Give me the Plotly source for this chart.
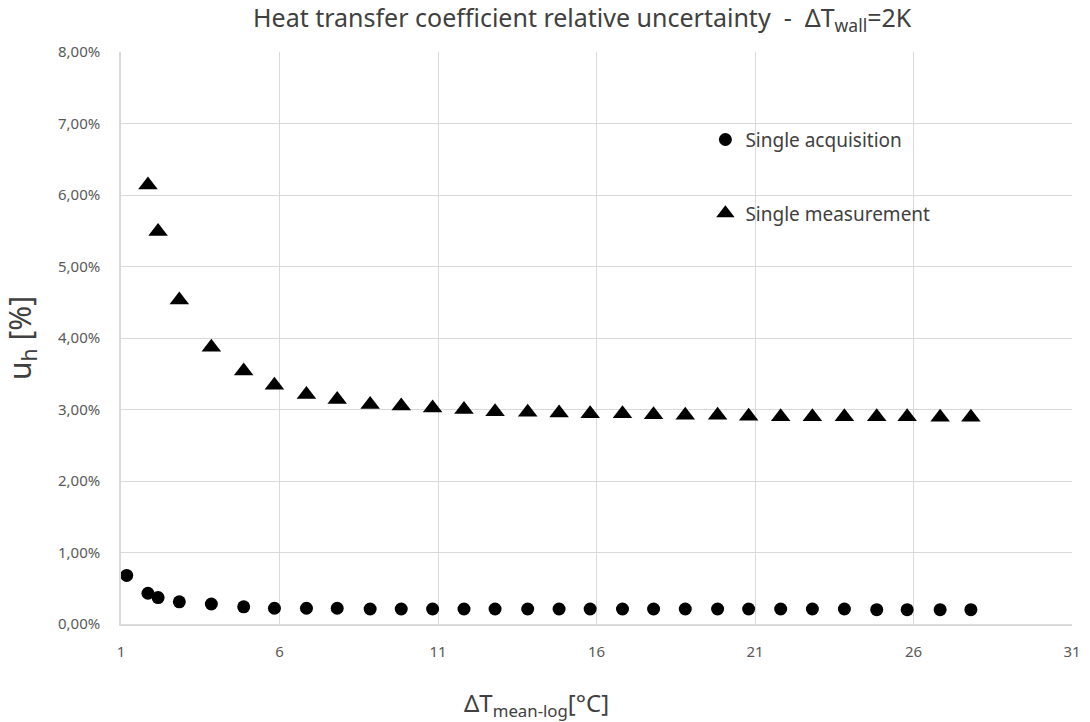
import plotly.graph_objects as go

# Data (x = ΔT mean-log [°C], y = relative uncertainty in %)
acq_x = [1.18, 1.85, 2.17, 2.84, 3.85, 4.87, 5.84, 6.85, 7.82, 8.86, 9.84, 10.83, 11.82, 12.8,
         13.83, 14.82, 15.8, 16.82, 17.8, 18.8, 19.82, 20.8, 21.81, 22.81, 23.82, 24.84, 25.8,
         26.84, 27.81]
acq_y = [0.68, 0.43, 0.37, 0.31, 0.28, 0.24, 0.22, 0.22, 0.22, 0.21, 0.21, 0.21, 0.21, 0.21,
         0.21, 0.21, 0.21, 0.21, 0.21, 0.21, 0.21, 0.21, 0.21, 0.21, 0.21, 0.20, 0.20, 0.20, 0.20]

meas_x = [1.85, 2.17, 2.84, 3.85, 4.87, 5.84, 6.85, 7.82, 8.86, 9.84, 10.83, 11.82, 12.8,
          13.83, 14.82, 15.8, 16.82, 17.8, 18.8, 19.82, 20.8, 21.81, 22.81, 23.82, 24.84, 25.8,
          26.84, 27.81]
meas_y = [6.14, 5.49, 4.53, 3.87, 3.54, 3.34, 3.21, 3.14, 3.07, 3.05, 3.02, 3.00, 2.97, 2.96,
          2.95, 2.94, 2.94, 2.925, 2.92, 2.92, 2.905, 2.90, 2.90, 2.90, 2.90, 2.90, 2.89, 2.89]

series_names = ["Single acquisition", "Single measurement"]
title_text = "Heat transfer coefficient relative uncertainty \u00a0-\u00a0 ΔT<sub>wall</sub>=2K"
x_title = "ΔT<sub>mean-log</sub>[°C]"
y_title = "u<sub>h</sub> [%]"

FONT = "Noto Sans"
TICK = "#595959"
TXT = "#404040"
GRID = "#d9d9d9"

fig = go.Figure()
fig.add_trace(go.Scatter(
    x=acq_x, y=[v / 100 for v in acq_y], mode="markers", name=series_names[0],
    legendgroup="a",
    marker=dict(symbol="circle", size=13, color="black"),
))
fig.add_trace(go.Scatter(
    x=meas_x, y=[v / 100 for v in meas_y], mode="markers", name=series_names[1],
    legendgroup="b",
    marker=dict(symbol="triangle-up", size=17, color="black"),
))

# white legend backdrop covering gridlines
fig.add_shape(type="rect", xref="paper", yref="paper", x0=0.558, x1=0.9125, y0=0.6535, y1=0.9125,
              fillcolor="white", line=dict(width=0), layer="between")

fig.update_layout(
    width=1090, height=722,
    margin=dict(l=121, r=9, t=52, b=98),
    paper_bgcolor="white", plot_bgcolor="white",
    separators=",.",
    font=dict(family=FONT, color=TICK, size=15),
    showlegend=True,
    legend=dict(x=0.6145, y=0.88, xanchor="left", yanchor="top",
                bgcolor="rgba(0,0,0,0)", font=dict(size=19, color=TXT, family=FONT),
                traceorder="grouped", tracegroupgap=46),
    xaxis=dict(range=[1, 31], tick0=1, dtick=5, showgrid=True, gridcolor=GRID, gridwidth=1,
               showline=True, linecolor=GRID, linewidth=1.5, zeroline=False,
               ticks="", ticklabelstandoff=13, tickfont=dict(size=15, color=TICK)),
    yaxis=dict(range=[0, 0.08], dtick=0.01, tickformat=".2%", showgrid=True, gridcolor=GRID,
               gridwidth=1, showline=True, linecolor=GRID, linewidth=1.5, zeroline=False,
               ticks="", ticklabelstandoff=16, tickfont=dict(size=15, color=TICK)),
    annotations=[
        dict(text=title_text, xref="paper", yref="paper", x=(587 - 121) / 960, y=1 + 33 / 571.5,
             xanchor="center", yanchor="middle", showarrow=False,
             font=dict(size=25, color=TXT, family=FONT)),
        dict(text=x_title, xref="paper", yref="paper", x=(540 - 121) / 960, y=-80 / 571.5,
             xanchor="center", yanchor="middle", showarrow=False,
             font=dict(size=24, color=TXT, family=FONT)),
        dict(text=y_title, xref="paper", yref="paper", x=-(121 - 20) / 960, y=0.5,
             xanchor="center", yanchor="middle", showarrow=False, textangle=-90,
             font=dict(size=30, color=TXT, family=FONT)),
    ],
)

fig.write_html("out.html")
